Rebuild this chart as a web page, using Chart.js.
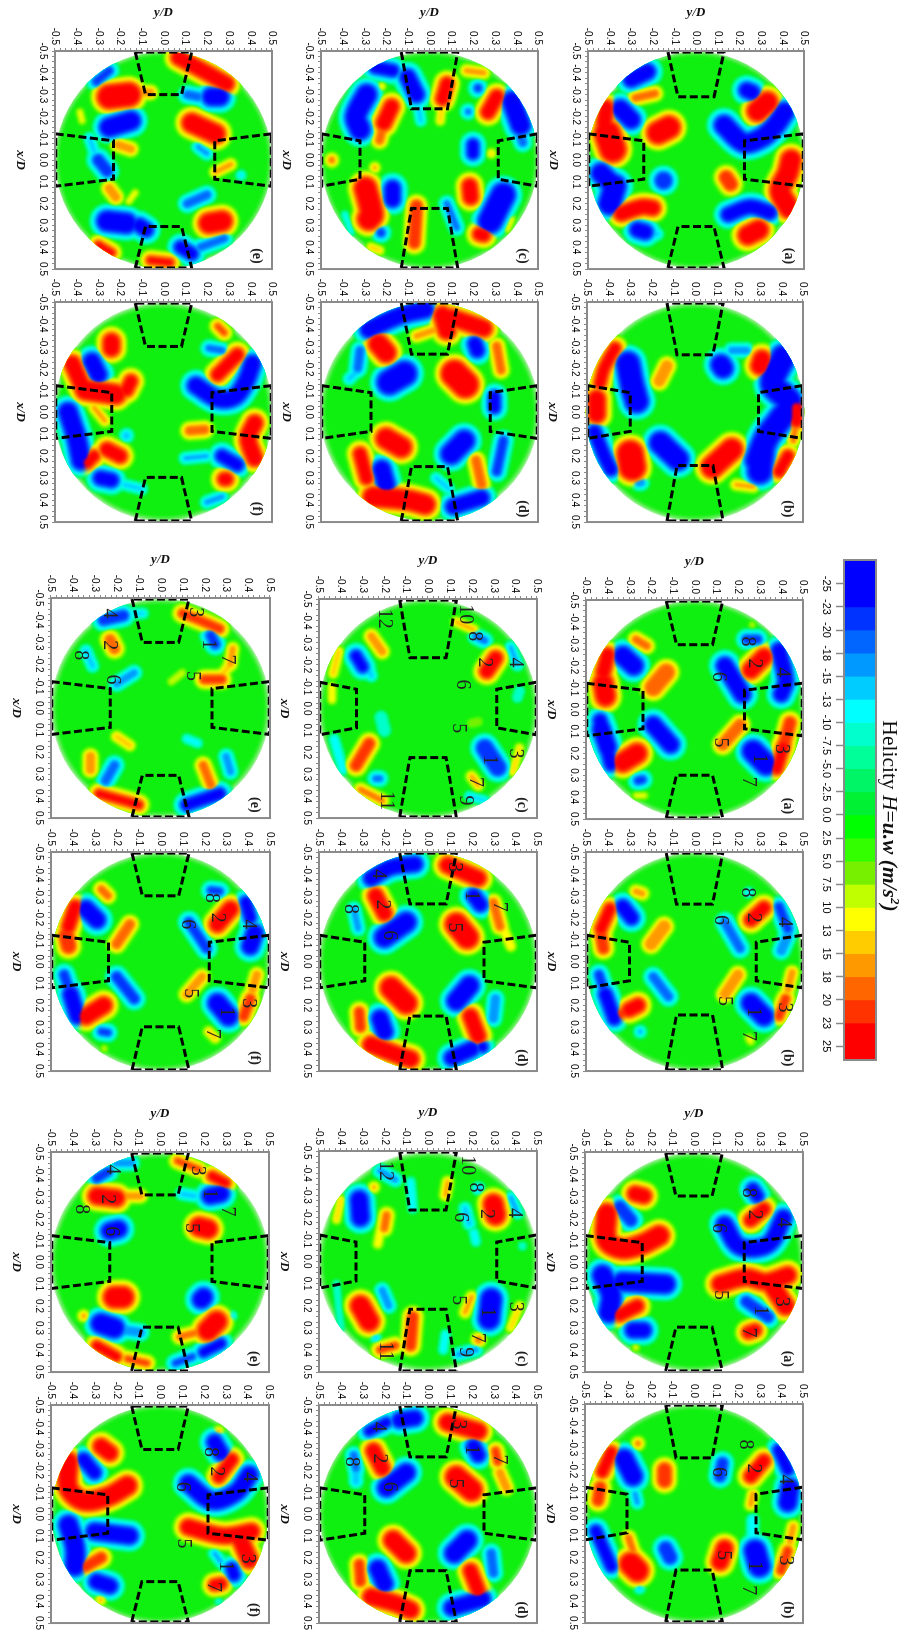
<!DOCTYPE html>
<html>
<head>
<meta charset="utf-8">
<title>Helicity maps</title>
<script src="https://cdn.jsdelivr.net/npm/chart.js@4"></script>
<style>
  html, body { margin: 0; padding: 0; background: #fff; width: 904px; height: 1633px; overflow: hidden; }
  /* the whole figure is a normal page turned a quarter clockwise */
  #sheet { position: absolute; left: 0; top: 0; width: 1633px; height: 904px; transform-origin: 0 0; transform: translate(904px, 0) rotate(90deg); filter: blur(0.45px); }
  #sheet canvas { position: absolute; }
  #barTitle { position: absolute; left: 700px; top: 2px; width: 232px; text-align: center; white-space: nowrap; font: 21.5px "Liberation Serif", serif; color: #111; }
  #barTitle i { font-style: italic; }
  #barTitle b { font-style: italic; font-weight: bold; }
  #barTitle sup { font-size: 13px; line-height: 0; }
</style>
</head>
<body>
<div id="sheet">
  <div id="barTitle">Helicity <i>H</i>=<b>u.w (m/s<sup>2</sup>)</b></div>
</div>
<script>
// Colour bar
const tickLabels = ['-25', '-23', '-20', '-18', '-15', '-13', '-10', '-7.5', '-5.0', '-2.5', '0.0', '2.5', '5.0', '7.5', '10', '13', '15', '18', '20', '23', '25'];
const bandEdges = [-1.03, 1, 2, 3, 4, 5, 6, 7, 8, 9, 10, 11, 12, 13, 14, 15, 16, 17, 18, 19, 20.6];
const bandColors = ['#0000ff', '#0033ff', '#0066ff', '#0099ff', '#00ccff', '#00ffff', '#00ffcc', '#00ff99', '#00f566', '#00f033', '#00ff00', '#33ff00', '#77f000', '#bfff00', '#ffff00', '#ffcc00', '#ff9900', '#ff6600', '#ff3300', '#ff0000'];
const levelSteps = [2.5, 5, 7.5, 10, 13, 15, 18, 20, 23];

// Vortex patches: [H, core half width in D, then the [x/D, y/D] spine of the patch]
const top_a = [[-25,.022,[-.37,-.30],[-.405,-.225]],[19,.008,[-.285,-.28],[-.305,-.19]],[-25,.026,[-.235,-.35],[-.185,-.30]],[25,.02,[-.24,-.415],[-.17,-.425]],[25,.045,[-.12,-.41],[-.05,-.385]],[25,.036,[-.125,-.175],[-.15,-.125]],[-25,.03,[.06,-.44],[.11,-.39]],[-25,.035,[.12,-.375],[.2,-.40]],[-20,.032,[.094,-.15]],[25,.02,[.245,-.345],[.215,-.25],[.22,-.20]],[-25,.02,[.32,-.27],[.33,-.235]],[-13,.01,[.335,-.205],[.34,-.18]],[-25,.02,[-.32,.235],[-.31,.26]],[25,.033,[-.225,.285],[-.265,.33]],[-25,.03,[-.16,.13],[-.08,.22],[-.10,.30],[-.15,.36],[-.22,.41]],[21,.022,[.08,.14],[.11,.16]],[25,.032,[0,.44],[.06,.425],[.14,.39],[.22,.43]],[-25,.018,[.25,.15],[.215,.25],[.24,.34]],[25,.03,[.345,.24],[.32,.29]]];
const top_b = [[25,.012,[-.29,-.37],[-.2,-.42],[-.13,-.44]],[25,.025,[-.06,-.455],[.01,-.455]],[-25,.038,[-.22,-.31],[-.12,-.29],[-.05,-.27]],[16,.02,[-.21,-.13],[-.14,-.165]],[-25,.03,[-.215,.12],[-.20,.13]],[-15,.012,[-.28,.17],[-.28,.24]],[25,.026,[-.24,.31],[-.21,.30]],[-25,.04,[-.25,.41],[-.13,.36],[-.04,.44],[.04,.39],[.12,.33],[.22,.29]],[-25,.04,[.18,.31],[.27,.30]],[25,.016,[-.02,.47],[.04,.47]],[18,.004,[.07,.465],[.13,.455]],[-25,.016,[.09,-.465],[.2,-.42],[.26,-.39]],[25,.045,[.19,-.30],[.25,-.29]],[-25,.035,[.14,-.16],[.215,-.08]],[-17,.01,[.32,-.26],[.32,-.25]],[25,.035,[.17,.17],[.25,.08]],[25,.012,[.2,.43],[.27,.39]],[15,.006,[.33,.19],[.34,.27]]];
const top_c = [[-25,.014,[-.425,-.25],[-.41,-.17]],[-25,.022,[-.38,-.10],[-.30,-.06]],[-13,.008,[-.24,-.05],[-.18,-.04]],[12,.005,[-.338,-.22]],[-25,.032,[-.30,-.29],[-.2,-.34],[-.14,-.32]],[25,.02,[-.245,-.175],[-.17,-.21]],[18,.012,[-.17,-.21],[-.09,-.23]],[25,.016,[-.35,.08],[-.28,.06]],[13,.006,[-.24,.055],[-.18,.05]],[17,.005,[-.41,.17],[-.40,.25]],[-20,.01,[-.33,.224]],[-18,.007,[-.222,.178]],[25,.018,[-.29,.31],[-.22,.27]],[-25,.03,[-.27,.38],[-.16,.42]],[-18,.012,[-.11,.42],[-.08,.43]],[-25,.012,[-.07,.2],[-.03,.2]],[13,.006,[-.03,.286]],[18,.007,[0,-.45]],[15,.006,[.035,-.252]],[-25,.022,[.13,-.17],[.18,-.17]],[25,.036,[.13,-.295],[.25,-.265],[.27,-.28]],[22,.015,[.21,-.06],[.38,-.07]],[-18,.007,[.2,.08],[.31,.125]],[25,.02,[.12,.185],[.17,.19]],[-25,.04,[.16,.34],[.28,.28]],[25,.016,[.34,.23],[.345,.25]],[-20,.011,[.333,-.224]],[10,.005,[.27,.38],[.32,.36]],[-10,.005,[.25,-.39],[.33,-.36]],[14,.003,[.40,-.27],[.415,-.23]]];
const top_d = [[-25,.024,[-.375,-.28],[-.44,-.13],[-.465,-.02]],[25,.026,[-.44,.06],[-.37,.08]],[25,.024,[-.43,.1],[-.38,.25]],[16,.008,[-.345,-.06],[-.375,.03]],[25,.03,[-.31,-.235],[-.27,-.20]],[-18,.012,[-.28,-.32],[-.2,-.33]],[-13,.01,[-.19,-.33],[-.15,-.37]],[-25,.04,[-.135,-.185],[-.175,-.115]],[25,.045,[-.175,.115],[-.125,.165]],[-25,.018,[-.31,.21],[-.28,.22]],[18,.012,[-.30,.31],[-.19,.33]],[-25,.012,[-.07,.30],[-.02,.30]],[25,.032,[.12,-.2],[.16,-.13]],[25,.016,[.19,-.32],[.30,-.29]],[-25,.026,[.26,-.22],[.33,-.20]],[25,.03,[.385,-.26],[.40,-.10],[.42,-.02]],[-25,.032,[.19,.10],[.13,.16]],[19,.012,[.22,.215],[.33,.24]],[-20,.012,[.13,.34],[.27,.31]],[-25,.02,[.43,.11],[.39,.24]],[-13,.008,[.3,.03],[.35,.09]]];
const top_e = [[-20,.01,[-.36,-.31],[-.41,-.25]],[25,.04,[-.29,-.25],[-.30,-.16]],[17,.01,[-.31,-.10],[-.31,-.06]],[25,.02,[-.47,.07],[-.40,.2],[-.35,.29]],[-18,.012,[-.30,.11],[-.29,.16]],[-25,.026,[-.29,.22],[-.29,.26]],[10,.006,[-.22,-.385],[-.18,-.375]],[-25,.028,[-.15,-.25],[-.18,-.15]],[25,.03,[-.17,.13],[-.12,.24]],[17,.01,[-.07,-.21],[-.05,-.15]],[-22,.014,[0,-.30],[.05,-.26]],[-13,.009,[-.10,-.34],[-.04,-.32]],[-15,.008,[-.06,.16],[-.03,.2]],[15,.008,[.055,.24],[.02,.31]],[-13,.005,[.07,.357]],[17,.012,[.13,-.25],[.17,-.22]],[10,.006,[.19,-.16],[.15,-.13]],[-25,.032,[.28,-.26],[.29,-.17]],[-25,.018,[.30,-.11],[.32,-.08]],[-18,.012,[.2,.11],[.16,.2]],[25,.032,[.29,.21],[.28,.27]],[-25,.015,[.40,.08],[.43,.13]],[-18,.01,[.40,.17],[.36,.28]],[23,.008,[.39,-.3],[.425,-.24]],[23,.008,[.46,-.06],[.47,.03]]];
const top_f = [[25,.024,[-.32,-.24],[-.29,-.24]],[20,.005,[-.39,.25],[-.36,.28]],[-18,.008,[-.29,.21],[-.28,.27]],[25,.016,[-.17,.25],[-.26,.34]],[-25,.024,[-.23,-.33],[-.17,-.30]],[25,.022,[-.22,-.42],[-.13,-.38]],[25,.03,[-.1,-.36],[-.08,-.22]],[25,.016,[-.14,-.15],[-.10,-.17]],[15,.007,[-.02,-.32],[.04,-.27]],[-25,.028,[0,-.44],[.12,-.40],[.22,-.38]],[-14,.012,[.107,-.17]],[-25,.024,[-.12,.15],[-.06,.25],[-.07,.33],[-.14,.38],[-.22,.41]],[18,.014,[.085,.12],[.08,.19]],[25,.022,[.05,.42],[.12,.39],[.21,.42]],[25,.018,[.17,-.26],[.2,-.2]],[25,.012,[.23,-.35],[.2,-.32]],[-25,.018,[.30,-.29],[.31,-.24]],[-13,.008,[.33,-.18],[.35,-.1]],[-15,.005,[.21,.1],[.2,.2]],[-25,.014,[.2,.27],[.24,.34]],[25,.016,[.305,.28],[.305,.29]],[-15,.008,[.41,.2],[.385,.27]]];

const mid_a = [[18,.01,[-.32,-.27],[-.29,-.22]],[-25,.028,[-.245,-.33],[-.2,-.28]],[25,.018,[-.25,-.40],[-.17,-.42]],[25,.03,[-.12,-.42],[-.06,-.41]],[19,.03,[-.17,-.13],[-.10,-.19]],[-25,.016,[.05,-.435],[.25,-.385]],[-25,.024,[.09,-.43],[.17,-.40]],[-25,.024,[.07,-.19],[.16,-.11]],[25,.03,[.2,-.265],[.24,-.33]],[-20,.01,[.325,-.26],[.32,-.24]],[10,.005,[.393,-.27],[.393,-.23]],[-20,.012,[-.32,.24],[-.32,.29]],[25,.024,[-.24,.32],[-.18,.26]],[-25,.024,[-.20,.14],[-.07,.22]],[-25,.02,[-.27,.39],[-.13,.42],[-.07,.40]],[18,.02,[.16,.13],[.07,.21]],[20,.02,[.06,.44],[.17,.41]],[25,.012,[.17,.41],[.27,.38]],[-25,.034,[.19,.27],[.25,.33]],[9,.005,[-.387,.266]]];
const mid_b = [[17,.006,[-.32,-.27],[-.31,-.24]],[-25,.018,[-.25,-.33],[-.2,-.29]],[25,.012,[-.24,-.39],[-.15,-.43]],[20,.018,[-.12,-.43],[-.06,-.42]],[17,.02,[-.16,-.14],[-.08,-.2]],[-20,.012,[.06,-.44],[.12,-.42]],[-25,.016,[.15,-.41],[.26,-.37]],[-18,.014,[.07,-.19],[.16,-.12]],[25,.018,[.2,-.26],[.22,-.3]],[21,.012,[.24,-.34],[.22,-.3]],[-15,.006,[.32,-.25]],[-13,.005,[-.315,.25]],[25,.016,[-.245,.32],[-.19,.26]],[-18,.014,[-.18,.14],[-.06,.21]],[-20,.012,[-.25,.39],[-.15,.43]],[-15,.018,[-.12,.43],[-.05,.40]],[16,.018,[.15,.14],[.06,.2]],[15,.012,[.05,.45],[.13,.43]],[22,.008,[.17,.42],[.25,.39]],[-25,.028,[.19,.26],[.25,.32]],[11,.005,[.35,.25],[.365,.26]]];
const mid_c = [[17,.01,[-.33,-.26],[-.26,-.21]],[-23,.016,[-.24,-.33],[-.19,-.30]],[-13,.01,[-.17,-.27],[-.15,-.26]],[14,.006,[-.26,-.41],[-.16,-.435]],[10,.01,[-.10,-.44],[-.04,-.44]],[20,.018,[.16,-.27],[.26,-.33]],[-18,.007,[.32,-.24],[.32,-.22]],[-12,.008,[.14,-.43],[.28,-.39]],[18,.004,[.37,-.31],[.42,-.21]],[15,.003,[-.395,.13],[-.36,.21]],[-18,.008,[-.33,.22],[-.31,.26]],[25,.018,[-.23,.31],[-.17,.27]],[-15,.005,[-.28,.38],[-.2,.41]],[-9,.012,[-.08,.42],[-.05,.41]],[-22,.026,[.18,.26],[.27,.32]],[13,.004,[.18,.42],[.29,.39]],[15,.006,[.31,.2],[.35,.23]],[-13,.004,[.40,.19],[.42,.26]],[-8,.02,[.04,-.215],[.1,-.2]],[7,.012,[.067,.2],[.06,.23]]];
const mid_d = [[-25,.02,[-.38,-.26],[-.43,-.17],[-.445,-.06]],[25,.02,[-.3,-.24],[-.22,-.20]],[-15,.01,[-.24,-.34],[-.15,-.32]],[-25,.03,[-.11,-.2],[-.18,-.10]],[25,.022,[-.44,.09],[-.38,.23]],[-25,.018,[-.30,.21],[-.26,.24]],[18,.012,[-.27,.30],[-.16,.33]],[12,.01,[-.14,.35],[-.07,.38]],[25,.036,[-.17,.13],[-.11,.18]],[25,.034,[.12,-.17],[.19,-.10]],[21,.012,[.23,-.315],[.3,-.31]],[-25,.024,[.26,-.22],[.32,-.2]],[25,.024,[.38,-.26],[.43,-.13],[.445,-.08]],[-25,.028,[.11,.19],[.18,.13]],[25,.02,[.25,.195],[.34,.23]],[-17,.012,[.17,.31],[.26,.30]],[-25,.02,[.44,.11],[.40,.2]],[-25,.01,[.39,.25]]];
const mid_e = [[-22,.012,[-.40,-.26],[-.42,-.17]],[-13,.006,[-.43,-.12],[-.43,-.08]],[19,.016,[-.31,-.23],[-.27,-.21]],[-13,.01,[-.26,-.34],[-.19,-.31]],[-15,.012,[-.11,-.2],[-.16,-.12]],[22,.008,[-.43,.1],[-.39,.2],[-.36,.27]],[-20,.014,[-.33,.23],[-.29,.25]],[16,.008,[-.27,.33],[-.20,.32]],[20,.012,[-.13,.2],[-.13,.28]],[14,.008,[-.2,.32],[-.15,.28]],[8,.01,[-.16,.1],[-.12,.05]],[13,.01,[.13,-.2],[.17,-.14]],[17,.012,[.22,-.32],[.28,-.32]],[-18,.014,[.26,-.21],[.33,-.25]],[23,.01,[.39,-.28],[.42,-.17],[.44,-.10]],[-11,.008,[.14,.12],[.16,.17]],[-15,.012,[.22,.30],[.29,.32]],[18,.012,[.26,.195],[.35,.23]],[-25,.012,[.44,.12],[.39,.27]]];
const mid_f = [[18,.01,[-.33,-.27],[-.30,-.24]],[-25,.024,[-.24,-.34],[-.19,-.29]],[25,.016,[-.25,-.39],[-.16,-.42]],[21,.024,[-.12,-.43],[-.07,-.42]],[18,.016,[-.17,-.14],[-.08,-.2]],[-20,.014,[.06,-.44],[.12,-.42]],[-25,.02,[.15,-.41],[.25,-.38]],[-20,.016,[.07,-.2],[.17,-.12]],[25,.024,[.2,-.26],[.25,-.34]],[-20,.008,[.32,-.27],[.325,-.24]],[9,.006,[.397,-.257]],[-20,.009,[-.325,.23],[-.32,.27]],[25,.022,[-.24,.32],[-.17,.26]],[-20,.014,[-.18,.13],[-.06,.21]],[-25,.012,[-.27,.39],[-.2,.41]],[-25,.024,[-.13,.43],[-.07,.41]],[16,.014,[.15,.12],[.07,.19]],[16,.012,[.06,.44],[.13,.42]],[21,.012,[.17,.41],[.25,.38]],[-25,.028,[.19,.26],[.25,.31]],[14,.006,[.32,.22],[.35,.25]]];

const low_a = [[25,.02,[-.31,-.27],[-.30,-.23]],[-22,.016,[-.25,-.34],[-.19,-.29]],[25,.03,[-.22,-.40],[-.10,-.40],[-.06,-.33],[-.08,-.24],[-.12,-.16]],[-25,.03,[.06,-.42],[.15,-.38],[.23,-.39]],[-25,.028,[.09,-.33],[.10,-.13]],[25,.016,[.24,-.34],[.2,-.26]],[-25,.02,[.31,-.28],[.31,-.23]],[10,.005,[.388,-.267]],[-25,.014,[-.33,.27],[-.30,.29]],[25,.016,[-.24,.32],[-.19,.26]],[-25,.022,[-.17,.14],[-.07,.21],[-.08,.34],[-.2,.41]],[25,.024,[.10,.12],[.07,.24],[.09,.33],[.06,.43]],[25,.026,[.11,.36],[.2,.42]],[-22,.012,[.18,.24],[.25,.34]],[25,.014,[.32,.25],[.31,.28]]];
const low_b = [[18,.004,[-.32,-.257]],[-25,.028,[-.25,-.32],[-.17,-.28]],[25,.012,[-.28,-.38],[-.19,-.42]],[22,.014,[-.12,-.43],[-.06,-.44]],[21,.022,[-.2,-.135],[-.15,-.135]],[-20,.018,[-.23,.13],[-.17,.12]],[-15,.008,[-.09,-.27],[-.05,-.26]],[-25,.012,[.08,-.45],[.24,-.38]],[25,.036,[.23,-.29],[.26,-.26]],[18,.008,[.11,-.30],[.17,-.28]],[-20,.024,[.16,-.13],[.2,-.11]],[-14,.006,[.34,-.25]],[25,.024,[.16,.14],[.22,.12]],[25,.016,[-.24,.32],[-.17,.26]],[-25,.012,[-.29,.39],[-.2,.43]],[-25,.026,[-.12,.44],[-.05,.43]],[15,.008,[-.09,.27],[-.04,.26]],[-25,.034,[.17,.28],[.24,.30]],[-12,.012,[.03,.27],[.11,.27]],[16,.008,[.06,.455],[.13,.44]],[22,.008,[.17,.43],[.26,.40]]];
const low_c = [[-25,.026,[-.28,-.315],[-.2,-.31]],[15,.006,[-.336,-.248]],[18,.01,[-.21,-.19],[-.15,-.2]],[12,.008,[-.13,-.22],[-.08,-.23]],[13,.004,[-.28,-.40],[-.19,-.42]],[-15,.01,[-.41,-.22],[-.37,-.15]],[-11,.008,[-.36,-.08],[-.24,-.07]],[15,.006,[-.36,.09],[-.3,.08]],[-15,.006,[-.33,.232]],[-14,.008,[-.24,.17],[-.17,.19]],[-11,.008,[-.13,.21],[-.09,.22]],[25,.03,[-.26,.30],[-.21,.31]],[-15,.005,[-.29,.38],[-.22,.41]],[-9,.008,[-.07,.433]],[-15,.012,[.13,-.21],[.2,-.18]],[25,.03,[.2,-.31],[.27,-.27]],[-14,.005,[.344,-.24]],[22,.012,[.25,-.07],[.38,-.08]],[20,.008,[.38,-.15],[.4,-.22]],[15,.007,[.16,.2],[.23,.17]],[-25,.032,[.17,.29],[.26,.28]],[19,.006,[.354,.232]],[-16,.006,[.42,.14],[.40,.22]],[-12,.005,[.33,.08],[.40,.07]],[13,.005,[.2,.42],[.30,.38]],[-9,.005,[.1,-.42],[.3,-.40]]];
const low_d = [[-23,.012,[-.38,-.27],[-.42,-.19]],[-25,.02,[-.43,-.13],[-.44,-.06]],[25,.02,[-.29,-.25],[-.21,-.21]],[-18,.01,[-.27,-.34],[-.21,-.33]],[-14,.012,[-.19,-.33],[-.15,-.33]],[-25,.026,[-.12,-.19],[-.19,-.10]],[25,.024,[-.42,.09],[-.38,.23]],[-25,.018,[-.31,.21],[-.27,.23]],[20,.01,[-.29,.31],[-.24,.32]],[16,.012,[-.19,.33],[-.12,.36]],[25,.034,[-.17,.13],[-.11,.2]],[25,.028,[.12,-.16],[.18,-.10]],[21,.012,[.23,-.315],[.31,-.31]],[-25,.024,[.25,-.23],[.32,-.2]],[25,.024,[.38,-.26],[.41,-.15],[.44,-.08]],[-25,.028,[.12,.18],[.18,.12]],[25,.018,[.26,.195],[.35,.23]],[-18,.014,[.18,.29],[.27,.30]],[-25,.022,[.43,.11],[.39,.25]]];
const low_e = [[-17,.008,[-.45,-.2],[-.45,-.13]],[-22,.008,[-.38,-.29],[-.41,-.24]],[25,.024,[-.30,-.29],[-.29,-.2]],[17,.008,[-.3,-.16],[-.3,-.09]],[20,.006,[-.46,.08],[-.42,.18]],[25,.008,[-.39,.24],[-.36,.3]],[-25,.022,[-.31,.28],[-.3,.23]],[-14,.008,[-.3,.16],[-.31,.1]],[-25,.024,[-.14,-.23],[-.15,-.19]],[25,.028,[-.16,.18],[-.15,.22]],[25,.034,[.16,-.21],[.16,-.17]],[-25,.026,[.17,.19],[.16,.2]],[16,.005,[.245,-.35]],[-25,.03,[.28,-.27],[.3,-.21]],[-17,.012,[.31,-.16],[.32,-.09]],[25,.032,[.27,.26],[.31,.22]],[18,.008,[.32,.17],[.34,.09]],[-13,.004,[.245,.33]],[25,.008,[.38,-.29],[.43,-.2]],[20,.006,[.44,-.15],[.46,-.06]],[-20,.006,[.46,.07],[.43,.15]],[-25,.008,[.41,.2],[.37,.28]]];
const low_f = [[25,.022,[-.31,-.27],[-.28,-.23]],[-25,.016,[-.25,-.35],[-.19,-.30]],[25,.028,[-.24,-.42],[-.12,-.42],[-.06,-.35],[-.08,-.24],[-.13,-.15]],[-25,.028,[.05,-.42],[.15,-.39],[.24,-.39]],[-25,.024,[.08,-.3],[.1,-.14]],[22,.012,[.2,-.27],[.24,-.34]],[-25,.02,[.31,-.29],[.33,-.23]],[15,.004,[.395,-.272]],[15,.004,[-.38,.27]],[-25,.02,[-.33,.25],[-.28,.28]],[25,.014,[-.25,.33],[-.17,.27]],[-25,.024,[-.14,.13],[-.06,.24],[-.1,.35],[-.18,.41]],[25,.022,[.06,.13],[.1,.29],[.08,.42]],[25,.024,[.12,.37],[.21,.41]],[-15,.005,[.18,.25],[.22,.28]],[-25,.012,[.25,.33],[.28,.34]],[25,.012,[.325,.25],[.32,.28]],[-10,.004,[.40,.27]]];

// Numbered vortex tags: [x/D, y/D, tag]
const midTags_a = [[-.31,.244,'8'],[-.21,.275,'2'],[-.17,.405,'4'],[-.15,.11,'6'],[.15,.12,'5'],[.18,.40,'3'],[.225,.30,'1'],[.33,.25,'7']];
const midTags_b = [[-.315,.245,'8'],[-.2,.27,'2'],[-.18,.415,'4'],[-.19,.12,'6'],[.18,.135,'5'],[.21,.415,'3'],[.23,.27,'1'],[.34,.25,'7']];
const midTags_c = [[-.43,.17,'10'],[-.41,-.2,'12'],[-.33,.21,'8'],[-.21,.40,'4'],[-.21,.26,'2'],[-.11,.155,'6'],[.09,.14,'5'],[.205,.40,'3'],[.235,.28,'1'],[.335,.215,'7'],[.42,.17,'9'],[.42,-.19,'11']];
const midTags_d = [[-.40,-.23,'4'],[-.26,-.21,'2'],[-.24,-.355,'8'],[-.12,-.18,'6'],[-.43,.12,'3'],[-.30,.2,'1'],[-.25,.325,'7'],[-.155,.12,'5']];
const midTags_e = [[-.43,-.235,'4'],[-.435,.16,'3'],[-.285,-.235,'2'],[-.29,.22,'1'],[-.24,-.365,'8'],[-.22,.305,'7'],[-.13,-.22,'6'],[-.145,.145,'5']];
const midTags_f = [[-.29,.23,'8'],[-.2,.26,'2'],[-.17,.40,'4'],[-.17,.12,'6'],[.145,.135,'5'],[.19,.40,'3'],[.23,.30,'1'],[.33,.235,'7']];
const lowTags_a = [[-.315,.25,'8'],[-.215,.275,'2'],[-.18,.41,'4'],[-.155,.11,'6'],[.15,.12,'5'],[.18,.40,'3'],[.22,.305,'1'],[.32,.25,'7']];
const lowTags_b = [[-.315,.235,'8'],[-.205,.27,'2'],[-.155,.42,'4'],[-.19,.11,'6'],[.19,.135,'5'],[.215,.42,'3'],[.24,.275,'1'],[.35,.25,'7']];
const lowTags_c = [[-.435,.18,'10'],[-.41,-.195,'12'],[-.335,.215,'8'],[-.22,.395,'4'],[-.215,.265,'2'],[-.2,.15,'6'],[.175,.14,'5'],[.205,.40,'3'],[.23,.27,'1'],[.345,.225,'7'],[.41,.17,'9'],[.405,-.195,'11']];
const lowTags_d = [[-.40,-.23,'4'],[-.255,-.225,'2'],[-.24,-.35,'8'],[-.125,-.18,'6'],[-.41,.14,'3'],[-.295,.2,'1'],[-.25,.325,'7'],[-.14,.125,'5']];
const lowTags_e = [[-.42,-.22,'4'],[-.415,.17,'3'],[-.285,-.24,'2'],[-.31,.225,'1'],[-.24,-.36,'8'],[-.23,.31,'7'],[-.14,-.225,'6'],[-.155,.145,'5']];
const lowTags_f = [[-.285,.23,'8'],[-.195,.26,'2'],[-.17,.41,'4'],[-.125,.10,'6'],[.135,.105,'5'],[.205,.40,'3'],[.24,.30,'1'],[.335,.245,'7']];

// Depth of the four blade inserts in each map: [top x, bottom x, left y, right y]
const insertDepths = {
    top_a: [-.29, .305, -.242, .225], top_b: [-.26, .243, -.30, .294],
    top_c: [-.235, .222, -.32, .317], top_d: [-.263, .248, -.27, .28],
    top_e: [-.30, .305, -.23, .236], top_f: [-.298, .297, -.238, .224],
    mid_a: [-.296, .30, -.237, .23], mid_b: [-.262, .244, -.30, .284],
    mid_c: [-.232, .224, -.328, .315], mid_d: [-.263, .249, -.29, .257],
    mid_e: [-.298, .306, -.229, .235], mid_f: [-.30, .298, -.238, .223],
    low_a: [-.30, .296, -.237, .23], low_b: [-.254, .258, -.307, .284],
    low_c: [-.233, .216, -.33, .315], low_d: [-.262, .26, -.29, .257],
    low_e: [-.305, .296, -.23, .238], low_f: [-.296, .31, -.24, .22]
};

// Map table: patches, tags, letter, plot frame on the page [left, right, top, bottom], y title
const maps = [
    ['top_a', top_a, [], '(a)', [588, 805, 51, 270], true], ['top_b', top_b, [], '(b)', [587, 804, 302, 523], false],
    ['top_c', top_c, [], '(c)', [321, 539, 51, 270], true], ['top_d', top_d, [], '(d)', [321, 539, 302, 523], false],
    ['top_e', top_e, [], '(e)', [55, 273, 51, 270], true], ['top_f', top_f, [], '(f)', [55, 273, 302, 523], false],
    ['mid_a', mid_a, midTags_a, '(a)', [586, 804, 600, 820], true], ['mid_b', mid_b, midTags_b, '(b)', [586, 804, 852, 1072], false],
    ['mid_c', mid_c, midTags_c, '(c)', [319, 538, 599, 819], true], ['mid_d', mid_d, midTags_d, '(d)', [319, 538, 852, 1072], false],
    ['mid_e', mid_e, midTags_e, '(e)', [51, 271, 598, 819], true], ['mid_f', mid_f, midTags_f, '(f)', [51, 271, 852, 1072], false],
    ['low_a', low_a, lowTags_a, '(a)', [585, 804, 1152, 1373], true], ['low_b', low_b, lowTags_b, '(b)', [585, 804, 1404, 1624], false],
    ['low_c', low_c, lowTags_c, '(c)', [319, 538, 1151, 1373], true], ['low_d', low_d, lowTags_d, '(d)', [319, 538, 1405, 1624], false],
    ['low_e', low_e, lowTags_e, '(e)', [51, 270, 1152, 1373], true], ['low_f', low_f, lowTags_f, '(f)', [51, 270, 1405, 1624], false]
];

const sheet = document.getElementById('sheet');
const SHEET_H = 904;
const GRAY = '#8a8a8a';

// Blur the contour patches and keep them inside the disc
Chart.register({
    id: 'mapLook',
    beforeDatasetDraw(chart, args) {
        if (!chart.data.datasets[args.index].contour) return;
        const ctx = chart.ctx;
        const area = chart.chartArea;
        ctx.save();
        ctx.beginPath();
        ctx.arc((area.left + area.right) / 2, (area.top + area.bottom) / 2, area.width * 0.497, 0, Math.PI * 2);
        ctx.clip();
        ctx.filter = 'blur(1.4px)';
    },
    afterDatasetDraw(chart, args) {
        if (!chart.data.datasets[args.index].contour) return;
        chart.ctx.restore();
    },
    afterDraw(chart) {
        const opts = chart.options.plugins.mapLook;
        const ctx = chart.ctx;
        const area = chart.chartArea;
        ctx.save();
        ctx.strokeStyle = GRAY;
        ctx.lineWidth = 2;
        ctx.strokeRect(area.left, area.top, area.width, area.height);
        ctx.fillStyle = '#222';
        ctx.textAlign = 'center';
        ctx.textBaseline = 'middle';
        if (opts.tags) {
            ctx.font = '20px "Liberation Serif", serif';
            opts.tags.forEach(t => {
                ctx.fillText(t[2], chart.scales.x.getPixelForValue(t[0]), chart.scales.y.getPixelForValue(t[1]));
            });
        }
        if (opts.letter) {
            ctx.font = 'bold 14px "Liberation Serif", serif';
            ctx.fillText(opts.letter, chart.scales.x.getPixelForValue(0.44), chart.scales.y.getPixelForValue(0.43));
        }
        ctx.restore();
    }
});

function insertOutlines(depths) {
    const [t, b, l, r] = depths;
    return [
        [[-.495, -.13], [t, -.083], [t, .083], [-.495, .13], [-.495, -.13]],
        [[.495, -.13], [b, -.083], [b, .083], [.495, .13], [.495, -.13]],
        [[-.12, -.497], [-.088, l], [.088, l], [.12, -.497], [-.12, -.497]],
        [[-.12, .497], [-.088, r], [.088, r], [.12, .497], [-.12, .497]]
    ];
}

// Disc sizes are in D, the chart area gives the pixels
function discSize(ctx) {
    const area = ctx.chart.chartArea;
    return ctx.raw.size * (area ? area.width : 220);
}

// Each contour level is a set of thick round lines along the patch spines
function levelDatasets(patches, plotSize) {
    const sets = [];
    const slope = 0.0023;
    levelSteps.forEach((step, i) => {
        [1, -1].forEach(sign => {
            const byWidth = new Map();
            patches.filter(p => p[0] * sign >= step).forEach(p => {
                const half = p[1] + (Math.abs(p[0]) - step) * slope;
                const width = Math.round(4 * half * plotSize) / 2;
                if (!byWidth.has(width)) byWidth.set(width, []);
                const points = byWidth.get(width);
                const spine = p.slice(2);
                spine.forEach(s => points.push({ x: s[0], y: s[1] }));
                if (spine.length === 1) points.push({ x: spine[0][0] + 0.0005, y: spine[0][1] });
                points.push({ x: null, y: null });
            });
            byWidth.forEach((points, width) => {
                sets.push({
                    type: 'scatter', contour: true, data: points, showLine: true, spanGaps: false, pointRadius: 0,
                    borderWidth: width, borderColor: bandColors[sign > 0 ? 11 + i : 8 - i],
                    borderCapStyle: 'round', borderJoinStyle: 'round', tension: 0.35,
                    order: 100 - i, clip: false
                });
            });
        });
    });
    return sets;
}

function panelAxis(title, showTitle, forced) {
    return {
        type: 'linear', min: -0.5, max: 0.5,
        title: { display: showTitle, text: title, color: '#111', padding: 0, font: { family: '"Liberation Serif", serif', size: 13, weight: 'bold', style: 'italic' } },
        border: { color: GRAY, width: 2 },
        grid: { drawOnChartArea: false, tickLength: 3, tickColor: GRAY },
        ticks: {
            stepSize: 0.025, autoSkip: false, maxRotation: 0, minRotation: 0, maxTicksLimit: 60, padding: 3, color: '#000',
            font: { family: '"Liberation Sans", sans-serif', size: 10 },
            callback: v => {
                const k = Math.round(v * 1000);
                if (k % 100 !== 0) return '';
                return k === 0 ? '0.0' : (k / 1000).toFixed(1);
            }
        },
        afterFit: forced
    };
}

// One map per canvas, placed on the turned sheet
function drawMap(entry) {
    const [name, patches, tags, letter, frame, showY] = entry;
    const mL = 46, mB = 42, mT = 8, mR = 9;
    const plotW = frame[3] - frame[2];
    const plotH = frame[1] - frame[0];
    const canvas = document.createElement('canvas');
    canvas.width = mL + plotW + mR;
    canvas.height = mT + plotH + mB;
    canvas.style.left = (frame[2] - mL) + 'px';
    canvas.style.top = (SHEET_H - frame[1] - mT) + 'px';
    sheet.appendChild(canvas);

    const datasets = [
        { type: 'bubble', contour: true, data: [{ x: 0, y: 0, size: 0.497 }], radius: discSize, borderWidth: 0, backgroundColor: '#6cec62', order: 1000, clip: false },
        { type: 'bubble', contour: true, data: [{ x: 0, y: 0, size: 0.48 }], radius: discSize, borderWidth: 0, backgroundColor: '#10f010', order: 999, clip: false }
    ].concat(levelDatasets(patches, plotW));

    insertOutlines(insertDepths[name]).forEach(path => {
        datasets.push({
            type: 'scatter', data: path.map(p => ({ x: p[0], y: p[1] })), showLine: true, pointRadius: 0,
            borderColor: '#000', borderWidth: 3, borderDash: [8, 3.5], order: 0, clip: false
        });
    });

    new Chart(canvas, {
        data: { datasets },
        options: {
            responsive: false, animation: false, events: [],
            layout: { autoPadding: false, padding: { left: 0, bottom: 0, top: mT, right: mR } },
            plugins: { legend: { display: false }, tooltip: { enabled: false }, mapLook: { tags, letter } },
            scales: {
                x: panelAxis('x/D', true, s => { s.height = mB; }),
                y: panelAxis('y/D', showY, s => { s.width = mL; })
            }
        }
    });
}

function drawColorBar() {
    const pad = 12;
    const canvas = document.createElement('canvas');
    canvas.width = 500 + pad * 2;
    canvas.height = 4 + 32 + 34;
    canvas.style.left = (560 - pad) + 'px';
    canvas.style.top = '24px';
    sheet.appendChild(canvas);

    const datasets = bandColors.map((color, i) => ({
        data: [[bandEdges[i], bandEdges[i + 1]]], backgroundColor: color, borderWidth: 0,
        barPercentage: 1, categoryPercentage: 1, grouped: false
    }));

    new Chart(canvas, {
        type: 'bar',
        data: { labels: ['H'], datasets },
        options: {
            indexAxis: 'y', responsive: false, animation: false, events: [],
            layout: { autoPadding: false, padding: { left: pad, right: pad, top: 4, bottom: 0 } },
            plugins: { legend: { display: false }, tooltip: { enabled: false }, mapLook: {} },
            scales: {
                y: { display: false, grid: { display: false } },
                x: {
                    type: 'linear', min: bandEdges[0], max: bandEdges[bandEdges.length - 1],
                    border: { color: GRAY, width: 1 },
                    grid: { drawOnChartArea: false, tickLength: 8, tickColor: GRAY, tickWidth: 1.5 },
                    afterBuildTicks: scale => { scale.ticks = tickLabels.map((t, i) => ({ value: i })); },
                    ticks: {
                        autoSkip: false, maxRotation: 0, minRotation: 0, padding: 3, color: '#000',
                        font: { family: '"Liberation Sans", sans-serif', size: 11 },
                        callback: v => tickLabels[v]
                    },
                    afterFit: s => { s.height = 34; }
                }
            }
        }
    });
}

// All eighteen maps, then the shared colour bar
maps.forEach(drawMap);
drawColorBar();
</script>
</body>
</html>
